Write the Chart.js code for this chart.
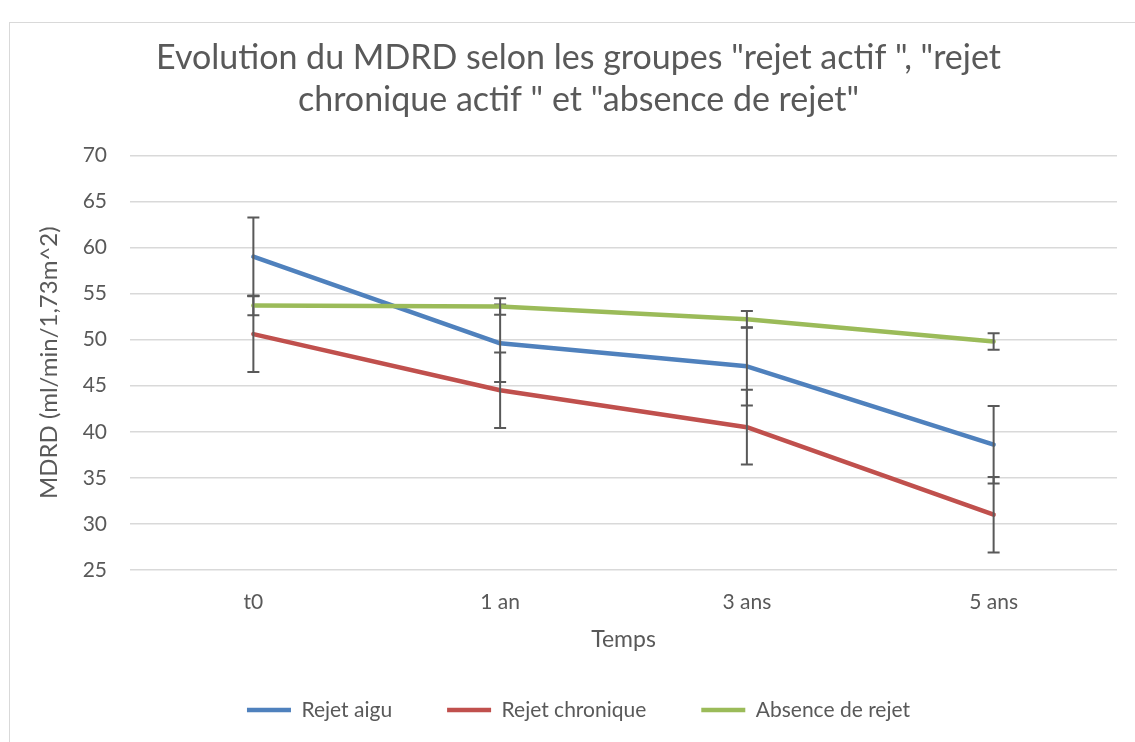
<!DOCTYPE html>
<html>
<head>
<meta charset="utf-8">
<script src="https://cdn.jsdelivr.net/npm/chart.js@4"></script>
<style>
    body { margin: 0; background: #fff; }
    #wrap { position: relative; width: 1135px; height: 742px; overflow: hidden; }
    #frame { position: absolute; left: 9px; top: 22px; width: 1200px; height: 800px; border: 1px solid #d9d9d9; }
    canvas { position: absolute; left: 0; top: 0; }
</style>
</head>
<body>
<div id="wrap">
    <div id="frame"></div>
    <canvas id="lineChart" width="1135" height="742"></canvas>
</div>
<script>
// Categories and values
const categories = ['t0', '1 an', '3 ans', '5 ans'];
const rejetAigu = [59.0, 49.6, 47.1, 38.6];
const rejetChronique = [50.6, 44.5, 40.5, 31.0];
const absenceRejet = [53.7, 53.6, 52.2, 49.8];
// Error bar half-widths (symmetric)
const errAigu = [4.25, 4.2, 4.25, 4.2];
const errChronique = [4.1, 4.1, 4.05, 4.1];
const errAbsence = [1.05, 0.9, 0.9, 0.9];
const yTicks = [25, 30, 35, 40, 45, 50, 55, 60, 65, 70];

const errorsByIndex = [errAigu, errChronique, errAbsence];

// Draw error bars right after each series, like Excel does
const errorBarPlugin = {
    id: 'errorBars',
    afterDatasetDraw(chart, args) {
        const errs = errorsByIndex[args.index];
        const values = chart.data.datasets[args.index].data;
        const yScale = chart.scales.y;
        const ctx = chart.ctx;
        ctx.save();
        ctx.strokeStyle = '#595959';
        ctx.lineWidth = 2;
        args.meta.data.forEach((pt, i) => {
            const x = pt.x;
            const top = yScale.getPixelForValue(values[i] + errs[i]);
            const bot = yScale.getPixelForValue(values[i] - errs[i]);
            ctx.beginPath();
            ctx.moveTo(x, top); ctx.lineTo(x, bot);
            ctx.moveTo(x - 6, top); ctx.lineTo(x + 6, top);
            ctx.moveTo(x - 6, bot); ctx.lineTo(x + 6, bot);
            ctx.stroke();
        });
        ctx.restore();
    }
};

Chart.defaults.font.family = 'Lato';
Chart.defaults.color = '#595959';

function series(label, data, color, order) {
    return {
        label: label,
        data: data,
        borderColor: color,
        backgroundColor: color,
        borderWidth: 4.5,
        borderCapStyle: 'round',
        borderJoinStyle: 'round',
        pointRadius: 0,
        tension: 0,
        order: order
    };
}

const ctx = document.getElementById('lineChart').getContext('2d');
const lineChart = new Chart(ctx, {
    type: 'line',
    data: {
        labels: categories,
        datasets: [
            series('Rejet aigu', rejetAigu, '#4F81BD', 3),
            series('Rejet chronique', rejetChronique, '#C0504D', 2),
            series('Absence de rejet', absenceRejet, '#9BBB59', 1)
        ]
    },
    plugins: [errorBarPlugin],
    options: {
        responsive: false,
        animation: false,
        layout: { padding: { left: 40, right: 18, top: 22, bottom: 11.5 } },
        plugins: {
            title: {
                display: true,
                text: ['Evolution du MDRD selon les groupes "rejet actif ", "rejet', 'chronique actif " et "absence de rejet"'],
                color: '#595959',
                font: { size: 34, weight: 'normal', lineHeight: 1.24 },
                padding: { top: 15, bottom: 34 }
            },
            legend: {
                position: 'bottom',
                reverse: true,
                labels: {
                    usePointStyle: true,
                    pointStyle: 'line',
                    pointStyleWidth: 44,
                    color: '#595959',
                    font: { size: 21 },
                    padding: 55
                }
            },
            tooltip: { enabled: false }
        },
        scales: {
            x: {
                offset: true,
                grid: { display: false, drawTicks: false },
                border: { display: false },
                ticks: { color: '#595959', font: { size: 21 }, padding: 20 },
                title: {
                    display: true,
                    text: 'Temps',
                    color: '#595959',
                    font: { size: 23, lineHeight: 1 },
                    padding: { top: 0, bottom: -7 }
                },
                afterFit: function(scale) { scale.height = 74.5; }
            },
            y: {
                min: 25,
                max: 70,
                afterBuildTicks: function(scale) {
                    scale.ticks = yTicks.map(v => ({ value: v }));
                },
                grid: { color: '#d9d9d9', lineWidth: 1.5, drawTicks: false },
                border: { display: false },
                ticks: { color: '#595959', font: { size: 21 }, padding: 23 },
                title: {
                    display: true,
                    text: 'MDRD (ml/min/1,73m^2)',
                    color: '#595959',
                    font: { size: 24, lineHeight: 1 },
                    padding: { top: -3, bottom: 0 }
                },
                afterFit: function(scale) { scale.width = 90; }
            }
        }
    }
});
</script>
</body>
</html>
